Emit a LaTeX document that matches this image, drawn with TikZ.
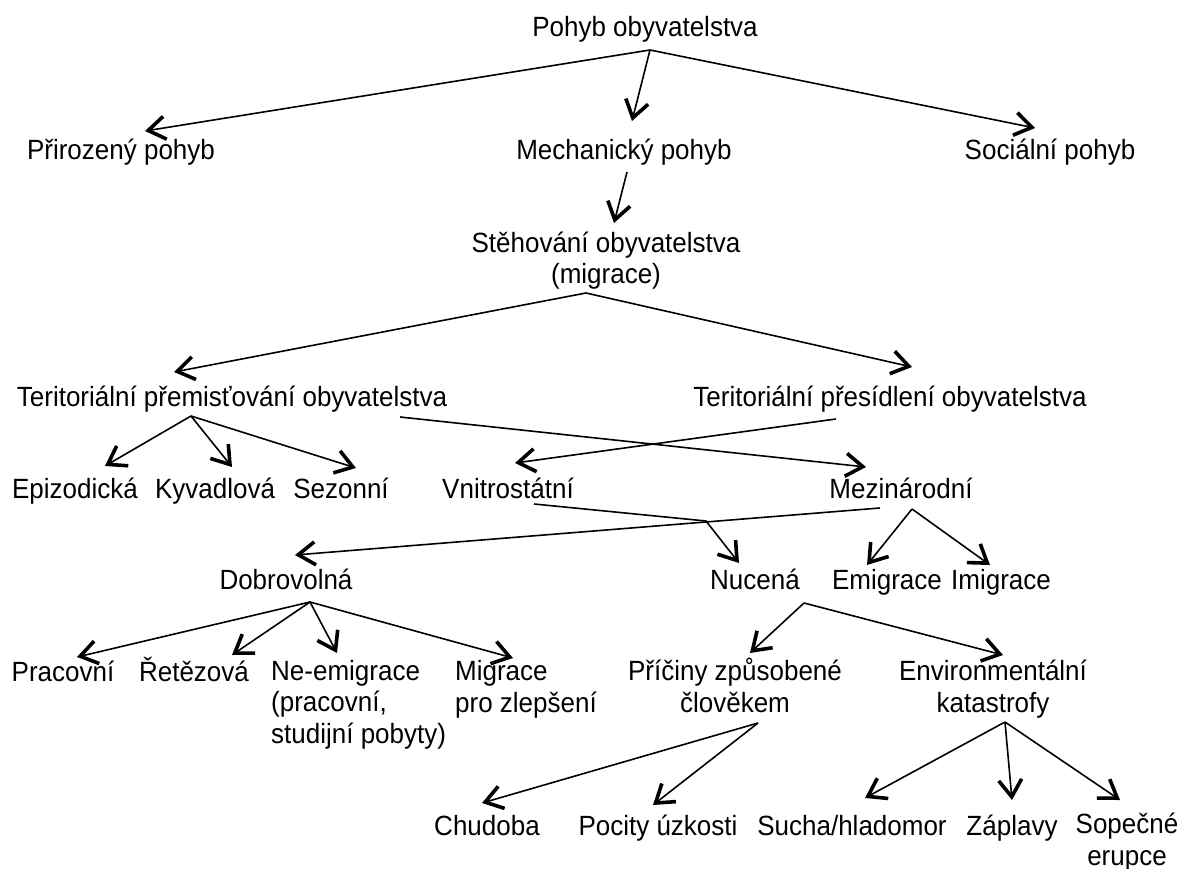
\documentclass[tikz,border=0pt]{standalone}
\usepackage{fontspec}
\setmainfont{Liberation Sans}
\usetikzlibrary{arrows.meta}
\begin{document}
\begin{tikzpicture}[x=1pt,y=-1pt,
  lbl/.style={inner sep=0pt,anchor=base,font=\fontsize{26}{29}\selectfont,align=center,yscale=1.07,transform shape},
  lbll/.style={lbl,align=left,anchor=base west},
  arr/.style={line width=1.6pt,-{Straight Barb[length=17pt,width=23pt,line width=3.6pt]}}]
\useasboundingbox (0,0) rectangle (1179,869);
% nodes (multi-line nodes: base = baseline of last line)
\node[lbl] (pohyb) at (645,37) {Pohyb obyvatelstva};
\node[lbl] (prir) at (121,160) {Přirozený pohyb};
\node[lbl] (mech) at (624,160) {Mechanický pohyb};
\node[lbl] (soc) at (1050,160) {Sociální pohyb};
\node[lbl] (steh) at (606,284) {Stěhování obyvatelstva\\(migrace)};
\node[lbl] (tpo) at (232,406) {Teritoriální přemisťování obyvatelstva};
\node[lbl] (tpr) at (890,406) {Teritoriální přesídlení obyvatelstva};
\node[lbl] (epi) at (75,498) {Epizodická};
\node[lbl] (kyv) at (215,498) {Kyvadlová};
\node[lbl] (sez) at (341,498) {Sezonní};
\node[lbl] (vni) at (508,498) {Vnitrostátní};
\node[lbl] (mez) at (901,498) {Mezinárodní};
\node[lbl] (dob) at (286,589) {Dobrovolná};
\node[lbl] (nuc) at (755,589) {Nucená};
\node[lbl] (emi) at (887,589) {Emigrace};
\node[lbl] (imi) at (1001,589) {Imigrace};
\node[lbl] (prac) at (63,681) {Pracovní};
\node[lbl] (ret) at (194,681) {Řetězová};
\node[lbll] (neem) at (271,743) {Ne-emigrace\\(pracovní,\\studijní pobyty)};
\node[lbll] (migr) at (455,712) {Migrace\\pro zlepšení};
\node[lbl] (pric) at (735,712) {Příčiny způsobené\\člověkem};
\node[lbl] (env) at (993,712) {Environmentální\\katastrofy};
\node[lbl] (chud) at (487,835) {Chudoba};
\node[lbl] (poc) at (658,835) {Pocity úzkosti};
\node[lbl] (such) at (852,835) {Sucha/hladomor};
\node[lbl] (zap) at (1012,835) {Záplavy};
\node[lbl] (sop) at (1127,865) {Sopečné\\erupce};
% connector ends
\coordinate (s-pohyb) at (650,50);
\coordinate (s-mech) at (627,172);
\coordinate (s-steh) at (586,293);
\coordinate (s-tpo) at (191,416);
\coordinate (s-tpo2) at (400,417);
\coordinate (s-tpr) at (836,419);
\coordinate (s-vni) at (534,504);
\coordinate (k-vni) at (706,521);
\coordinate (s-mez1) at (880,508);
\coordinate (s-mez2) at (912,509);
\coordinate (s-dob) at (310,602);
\coordinate (s-nuc) at (804,603);
\coordinate (s-pric) at (758,723);
\coordinate (s-env) at (1005,722);
\coordinate (t-prir) at (145,131);
\coordinate (t-mech) at (632,121);
\coordinate (t-soc) at (1035,128);
\coordinate (t-steh) at (614,223);
\coordinate (t-tpo) at (174,372);
\coordinate (t-tpr) at (912,367);
\coordinate (t-epi) at (105,466);
\coordinate (t-kyv) at (232,467);
\coordinate (t-sez) at (356,468);
\coordinate (t-mez) at (866,467);
\coordinate (t-vni) at (515,463);
\coordinate (t-nuc) at (739,563);
\coordinate (t-dob) at (295,555);
\coordinate (t-emi) at (867,565);
\coordinate (t-imi) at (990,565);
\coordinate (t-prac) at (77,657);
\coordinate (t-ret) at (232,655);
\coordinate (t-neem) at (337,653);
\coordinate (t-migr) at (513,658);
\coordinate (t-pric) at (750,653);
\coordinate (t-env) at (1003,655);
\coordinate (t-chud) at (482,803);
\coordinate (t-poc) at (653,805);
\coordinate (t-such) at (865,798);
\coordinate (t-zap) at (1012,800);
\coordinate (t-sop) at (1120,800);
% connectors
\draw[arr] (s-pohyb) -- (t-prir);
\draw[arr] (s-pohyb) -- (t-mech);
\draw[arr] (s-pohyb) -- (t-soc);
\draw[arr] (s-mech) -- (t-steh);
\draw[arr] (s-steh) -- (t-tpo);
\draw[arr] (s-steh) -- (t-tpr);
\draw[arr] (s-tpo) -- (t-epi);
\draw[arr] (s-tpo) -- (t-kyv);
\draw[arr] (s-tpo) -- (t-sez);
\draw[arr] (s-tpo2) -- (t-mez);
\draw[arr] (s-tpr) -- (t-vni);
\draw[arr] (s-vni) -- (k-vni) -- (t-nuc);
\draw[arr] (s-mez1) -- (t-dob);
\draw[arr] (s-mez2) -- (t-emi);
\draw[arr] (s-mez2) -- (t-imi);
\draw[arr] (s-dob) -- (t-prac);
\draw[arr] (s-dob) -- (t-ret);
\draw[arr] (s-dob) -- (t-neem);
\draw[arr] (s-dob) -- (t-migr);
\draw[arr] (s-nuc) -- (t-pric);
\draw[arr] (s-nuc) -- (t-env);
\draw[arr] (s-pric) -- (t-chud);
\draw[arr] (s-pric) -- (t-poc);
\draw[arr] (s-env) -- (t-such);
\draw[arr] (s-env) -- (t-zap);
\draw[arr] (s-env) -- (t-sop);
\end{tikzpicture}
\end{document}
